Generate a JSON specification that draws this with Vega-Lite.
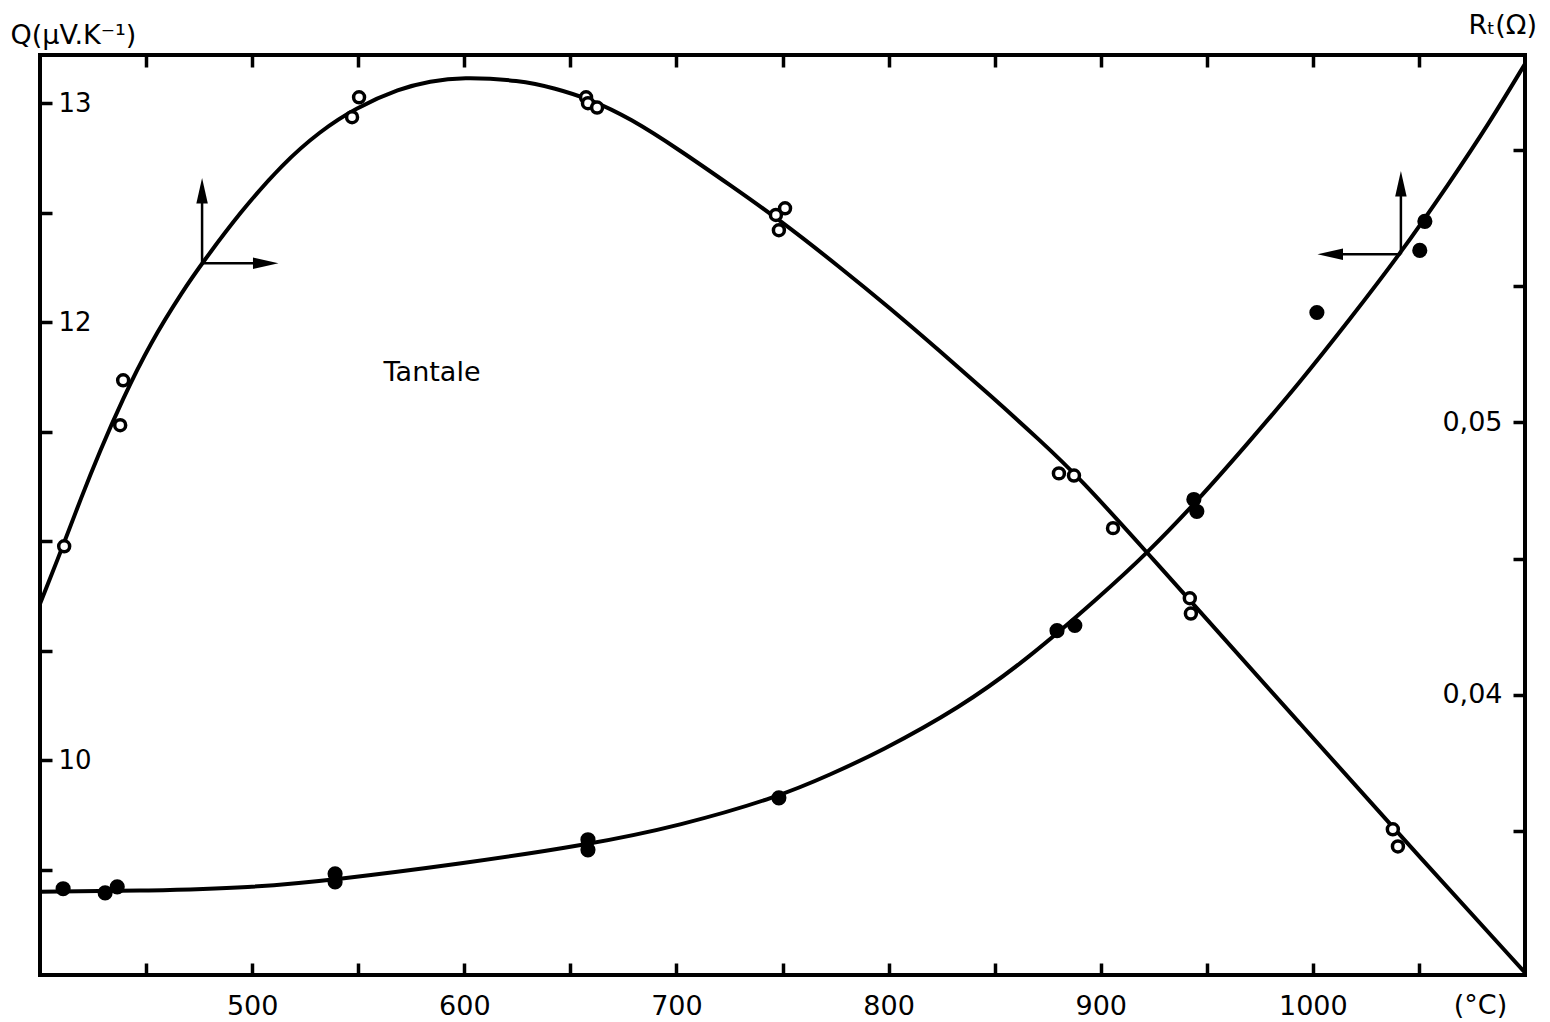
{
  "$schema": "https://vega.github.io/schema/vega-lite/v6.json",
  "width": 1485,
  "height": 920,
  "autosize": {"type": "none"},
  "padding": {"left": 40, "top": 55, "right": 25, "bottom": 47},
  "background": "white",
  "config": {
    "view": {"stroke": "black", "strokeWidth": 4},
    "font": "DejaVu Sans",
    "axis": {
      "domain": false,
      "grid": false,
      "ticks": true,
      "tickColor": "black",
      "tickWidth": 3.5,
      "tickSize": -12,
      "labelColor": "black",
      "labelFont": "DejaVu Sans",
      "labelFontSize": 26,
      "labelOverlap": false,
      "titleFont": "DejaVu Sans",
      "titleFontWeight": "normal",
      "titleColor": "black",
      "titleFontSize": 27
    }
  },
  "datasets": {
    "qcurve": [
      {"T": 400.1, "Q": 10.717}, {"T": 411.9, "Q": 11.005}, {"T": 418.9, "Q": 11.187},
      {"T": 428.4, "Q": 11.416}, {"T": 438.7, "Q": 11.644}, {"T": 451.9, "Q": 11.904},
      {"T": 467.5, "Q": 12.146}, {"T": 476.4, "Q": 12.269}, {"T": 494.3, "Q": 12.502},
      {"T": 514.6, "Q": 12.726}, {"T": 532.0, "Q": 12.872}, {"T": 548.5, "Q": 12.977},
      {"T": 569.7, "Q": 13.068}, {"T": 583.9, "Q": 13.1}, {"T": 598.5, "Q": 13.119},
      {"T": 626.3, "Q": 13.105},
      {"T": 642.8, "Q": 13.068}, {"T": 659.3, "Q": 13.018}, {"T": 678.1, "Q": 12.932},
      {"T": 701.7, "Q": 12.785}, {"T": 725.3, "Q": 12.626}, {"T": 748.8, "Q": 12.466},
      {"T": 777.1, "Q": 12.251}, {"T": 800.7, "Q": 12.064}, {"T": 824.2, "Q": 11.868},
      {"T": 847.8, "Q": 11.667}, {"T": 871.4, "Q": 11.461}, {"T": 890.2, "Q": 11.288},
      {"T": 922.2, "Q": 10.945}, {"T": 946.7, "Q": 10.68}, {"T": 993.9, "Q": 10.169},
      {"T": 1041.0, "Q": 9.658}, {"T": 1099.9, "Q": 9.032}
    ],
    "qpoints": [
      {"T": 411.4, "Q": 10.977}, {"T": 437.8, "Q": 11.53}, {"T": 439.2, "Q": 11.735},
      {"T": 547.1, "Q": 12.936}, {"T": 550.4, "Q": 13.027}, {"T": 657.4, "Q": 13.027},
      {"T": 658.3, "Q": 13.0}, {"T": 662.6, "Q": 12.98}, {"T": 746.9, "Q": 12.49},
      {"T": 751.2, "Q": 12.52}, {"T": 748.3, "Q": 12.42}, {"T": 880.3, "Q": 11.31},
      {"T": 887.4, "Q": 11.30}, {"T": 905.8, "Q": 11.06}, {"T": 942.0, "Q": 10.74},
      {"T": 942.5, "Q": 10.67}, {"T": 1037.7, "Q": 9.685}, {"T": 1040.1, "Q": 9.607}
    ],
    "rcurve": [
      {"T": 400.1, "R": 0.032757}, {"T": 451.9, "R": 0.032794}, {"T": 499.1, "R": 0.032904},
      {"T": 539.1, "R": 0.033199}, {"T": 598.5, "R": 0.033787}, {"T": 658.3, "R": 0.034485},
      {"T": 701.7, "R": 0.035184}, {"T": 748.4, "R": 0.03625}, {"T": 772.4, "R": 0.037059},
      {"T": 796.0, "R": 0.037904}, {"T": 833.7, "R": 0.039522}, {"T": 865.2, "R": 0.041287},
      {"T": 899.6, "R": 0.043603}, {"T": 922.2, "R": 0.045221}, {"T": 945.3, "R": 0.047096},
      {"T": 968.9, "R": 0.049191}, {"T": 993.9, "R": 0.051471}, {"T": 1017.4, "R": 0.053787},
      {"T": 1041.0, "R": 0.056176}, {"T": 1064.6, "R": 0.058824}, {"T": 1083.4, "R": 0.061029},
      {"T": 1099.9, "R": 0.063162}
    ],
    "rpoints": [
      {"T": 410.9, "R": 0.03287}, {"T": 430.7, "R": 0.03272}, {"T": 436.4, "R": 0.03294},
      {"T": 539.1, "R": 0.03342}, {"T": 539.1, "R": 0.03312}, {"T": 658.3, "R": 0.03467},
      {"T": 658.3, "R": 0.0343}, {"T": 748.3, "R": 0.03621}, {"T": 879.4, "R": 0.04235},
      {"T": 887.8, "R": 0.04254}, {"T": 943.9, "R": 0.04717}, {"T": 945.3, "R": 0.04673},
      {"T": 1001.9, "R": 0.05404}, {"T": 1050.4, "R": 0.05632}, {"T": 1052.8, "R": 0.05739}
    ],
    "qarrow": [
      {"T": 476.4, "Q": 12.269, "T2": 506.4, "Q2": 12.269},
      {"T": 476.4, "Q": 12.269, "T2": 476.4, "Q2": 12.6}
    ],
    "qheads": [
      {"T": 506.4, "Q": 12.269, "dir": "right"},
      {"T": 476.4, "Q": 12.6, "dir": "up"}
    ],
    "rarrow": [
      {"T": 1041.5, "R": 0.056176, "T2": 1008.2, "R2": 0.056176},
      {"T": 1041.5, "R": 0.056176, "T2": 1041.5, "R2": 0.05877}
    ],
    "rheads": [
      {"T": 1008.2, "R": 0.056176, "dir": "left"},
      {"T": 1041.5, "R": 0.05877, "dir": "up"}
    ],
    "labels": [
      {"T": 584.8, "Q": 11.767, "text": "Tantale"}
    ]
  },
  "resolve": {"scale": {"y": "independent"}, "axis": {"x": "independent"}},
  "layer": [
    {
      "encoding": {
        "x": {
          "field": "T", "type": "quantitative",
          "scale": {"domain": [400, 1100], "nice": false, "zero": false},
          "axis": {
            "orient": "bottom",
            "values": [450, 500, 550, 600, 650, 700, 750, 800, 850, 900, 950, 1000, 1050],
            "labelExpr": "datum.value % 100 == 0 ? format(datum.value, 'd') : ''",
            "labelPadding": 30,
            "labelFontSize": 27,
            "title": "(°C)",
            "titleX": 1440,
            "titleY": 38,
            "titleAlign": "center",
            "titleBaseline": "alphabetic",
            "titleFontSize": 27
          }
        },
        "y": {
          "field": "Q", "type": "quantitative",
          "scale": {"domain": [9.02, 13.22], "nice": false, "zero": false},
          "axis": {
            "orient": "left",
            "values": [9.5, 10, 10.5, 11, 11.5, 12, 12.5, 13],
            "labelExpr": "datum.value == 13 ? '13' : datum.value == 12 ? '12' : datum.value == 10 ? '10' : ''",
            "labelAlign": "left",
            "labelBaseline": "middle",
            "labelPadding": -6,
            "labelFontSize": 26,
            "title": "Q(µV.K⁻¹)",
            "titleAngle": 0,
            "titleAlign": "left",
            "titleBaseline": "alphabetic",
            "titleX": -30,
            "titleY": -12
          }
        }
      },
      "layer": [
        {
          "data": {"name": "qcurve"},
          "mark": {"type": "line", "interpolate": "basis", "color": "black", "strokeWidth": 4}
        },
        {
          "data": {"name": "qpoints"},
          "mark": {"type": "point", "shape": "circle", "filled": false, "stroke": "black", "strokeWidth": 3.5, "size": 120, "fill": "white", "fillOpacity": 1, "opacity": 1}
        },
        {
          "data": {"name": "qarrow"},
          "mark": {"type": "rule", "color": "black", "strokeWidth": 2.5},
          "encoding": {
            "x2": {"field": "T2"},
            "y2": {"field": "Q2"}
          }
        },
        {
          "data": {"name": "qheads"},
          "mark": {"type": "point", "filled": true, "color": "black", "opacity": 1, "size": 650},
          "encoding": {
            "shape": {
              "field": "dir", "type": "nominal", "legend": null,
              "scale": {"domain": ["up", "right", "left"], "range": ["M0,-1L-0.45,1L0.45,1Z", "M1,0L-1,-0.45L-1,0.45Z", "M-1,0L1,-0.45L1,0.45Z"]}
            }
          }
        },
        {
          "data": {"name": "labels"},
          "mark": {"type": "text", "fontSize": 27, "font": "DejaVu Sans", "align": "center", "baseline": "middle", "color": "black"},
          "encoding": {
            "text": {"field": "text"}
          }
        }
      ]
    },
    {
      "encoding": {
        "x": {
          "field": "T", "type": "quantitative",
          "scale": {"domain": [400, 1100], "nice": false, "zero": false},
          "axis": {
            "orient": "top",
            "values": [450, 500, 550, 600, 650, 700, 750, 800, 850, 900, 950, 1000, 1050],
            "labels": false,
            "title": null
          }
        },
        "y": {
          "field": "R", "type": "quantitative",
          "scale": {"domain": [0.0297, 0.0635], "nice": false, "zero": false},
          "axis": {
            "orient": "right",
            "values": [0.035, 0.04, 0.045, 0.05, 0.055, 0.06],
            "labelExpr": "datum.value == 0.05 ? '0,05' : datum.value == 0.04 ? '0,04' : ''",
            "labelAlign": "right",
            "labelBaseline": "middle",
            "labelPadding": -11,
            "labelFontSize": 27,
            "title": "Rₜ(Ω)",
            "titleAngle": 0,
            "titleAlign": "left",
            "titleBaseline": "alphabetic",
            "titleX": -57,
            "titleY": -22
          }
        }
      },
      "layer": [
        {
          "data": {"name": "rcurve"},
          "mark": {"type": "line", "interpolate": "basis", "color": "black", "strokeWidth": 4}
        },
        {
          "data": {"name": "rpoints"},
          "mark": {"type": "point", "shape": "circle", "filled": true, "color": "black", "opacity": 1, "size": 230}
        },
        {
          "data": {"name": "rarrow"},
          "mark": {"type": "rule", "color": "black", "strokeWidth": 2.5},
          "encoding": {
            "x2": {"field": "T2"},
            "y2": {"field": "R2"}
          }
        },
        {
          "data": {"name": "rheads"},
          "mark": {"type": "point", "filled": true, "color": "black", "opacity": 1, "size": 650},
          "encoding": {
            "shape": {
              "field": "dir", "type": "nominal", "legend": null,
              "scale": {"domain": ["up", "right", "left"], "range": ["M0,-1L-0.45,1L0.45,1Z", "M1,0L-1,-0.45L-1,0.45Z", "M-1,0L1,-0.45L1,0.45Z"]}
            }
          }
        }
      ]
    }
  ]
}
